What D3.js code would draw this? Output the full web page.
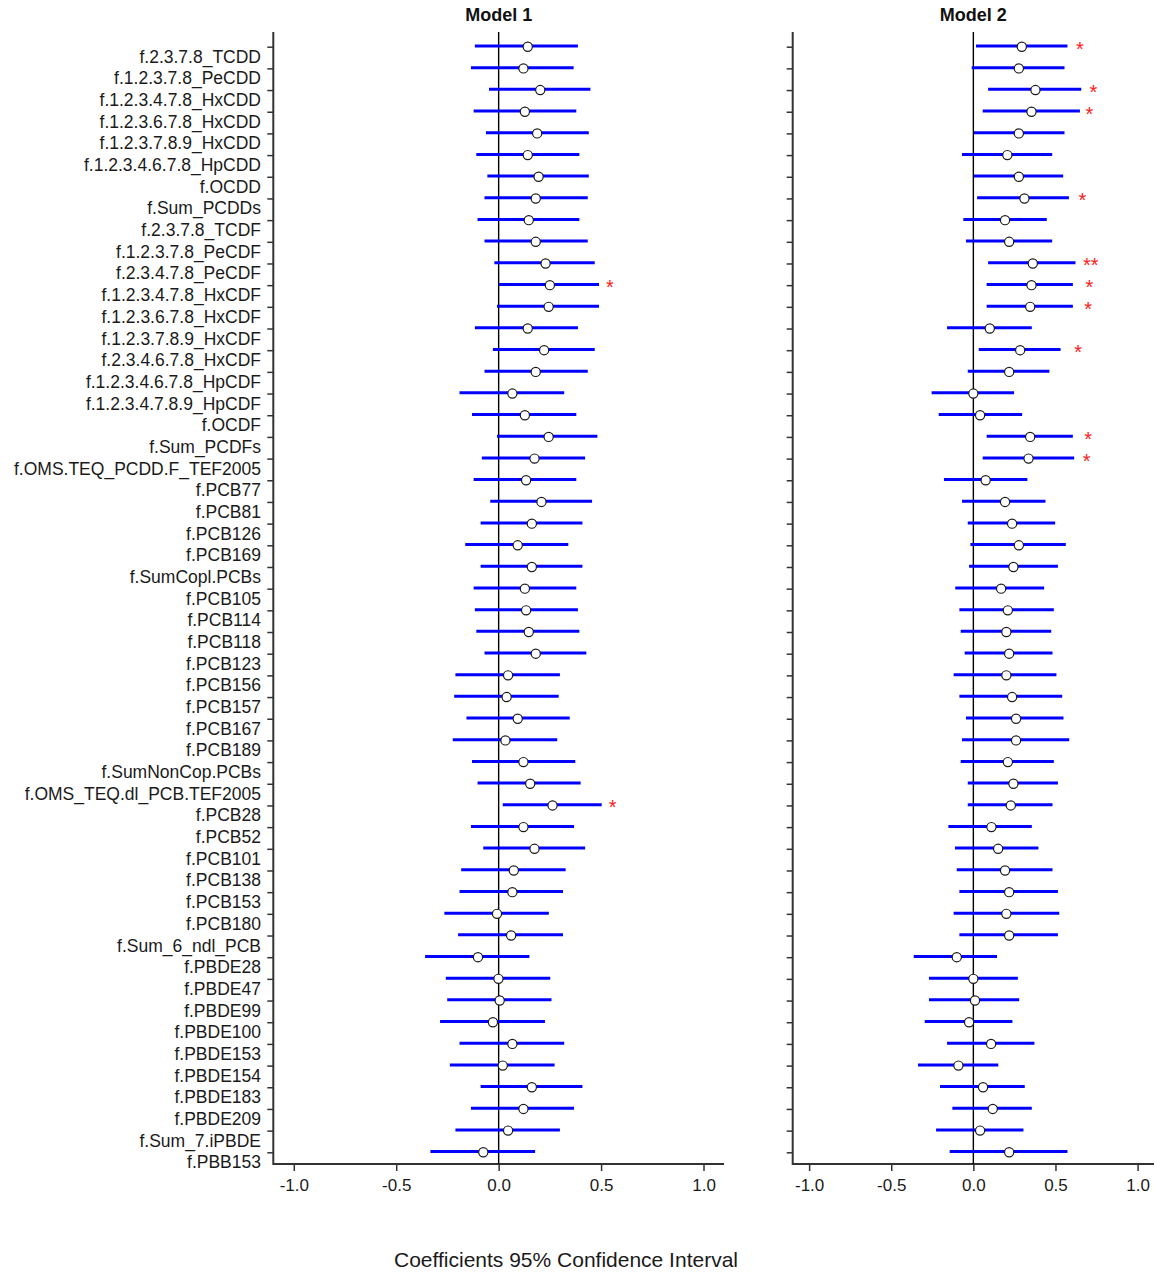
<!DOCTYPE html>
<html>
<head>
<meta charset="utf-8">
<script src="https://cdn.jsdelivr.net/npm/d3@7"></script>
<style>
  body { margin: 0; background: #fff; }
  svg text { font-family: "Liberation Sans", Arial, sans-serif; }
</style>
</head>
<body>
<div id="forest"></div>
<script>

// exposures, top to bottom
const labels = [
  "f.2.3.7.8_TCDD", "f.1.2.3.7.8_PeCDD", "f.1.2.3.4.7.8_HxCDD", "f.1.2.3.6.7.8_HxCDD",
  "f.1.2.3.7.8.9_HxCDD", "f.1.2.3.4.6.7.8_HpCDD", "f.OCDD", "f.Sum_PCDDs",
  "f.2.3.7.8_TCDF", "f.1.2.3.7.8_PeCDF", "f.2.3.4.7.8_PeCDF", "f.1.2.3.4.7.8_HxCDF",
  "f.1.2.3.6.7.8_HxCDF", "f.1.2.3.7.8.9_HxCDF", "f.2.3.4.6.7.8_HxCDF", "f.1.2.3.4.6.7.8_HpCDF",
  "f.1.2.3.4.7.8.9_HpCDF", "f.OCDF", "f.Sum_PCDFs", "f.OMS.TEQ_PCDD.F_TEF2005",
  "f.PCB77", "f.PCB81", "f.PCB126", "f.PCB169", "f.SumCopl.PCBs",
  "f.PCB105", "f.PCB114", "f.PCB118", "f.PCB123", "f.PCB156", "f.PCB157",
  "f.PCB167", "f.PCB189", "f.SumNonCop.PCBs", "f.OMS_TEQ.dl_PCB.TEF2005",
  "f.PCB28", "f.PCB52", "f.PCB101", "f.PCB138", "f.PCB153", "f.PCB180",
  "f.Sum_6_ndl_PCB", "f.PBDE28", "f.PBDE47", "f.PBDE99", "f.PBDE100",
  "f.PBDE153", "f.PBDE154", "f.PBDE183", "f.PBDE209", "f.Sum_7.iPBDE", "f.PBB153"
];

// Model 1
const m1Est = [0.142, 0.121, 0.203, 0.128, 0.188, 0.142, 0.195, 0.181, 0.147, 0.181,
  0.229, 0.250, 0.244, 0.142, 0.222, 0.181, 0.067, 0.128, 0.244, 0.175,
  0.134, 0.209, 0.162, 0.093, 0.162, 0.128, 0.134, 0.147, 0.181, 0.046,
  0.039, 0.093, 0.033, 0.121, 0.154, 0.263, 0.121, 0.175, 0.074, 0.067,
  -0.008, 0.061, -0.101, -0.001, 0.005, -0.028, 0.067, 0.020, 0.162, 0.121,
  0.046, -0.075];
const m1Lo = [-0.116, -0.135, -0.047, -0.122, -0.062, -0.109, -0.055, -0.069, -0.103, -0.069,
  -0.021, 0.002, -0.008, -0.116, -0.028, -0.069, -0.191, -0.130, -0.008, -0.082,
  -0.122, -0.041, -0.088, -0.163, -0.088, -0.122, -0.116, -0.109, -0.069, -0.211,
  -0.217, -0.157, -0.224, -0.130, -0.103, 0.020, -0.135, -0.075, -0.183, -0.191,
  -0.265, -0.198, -0.359, -0.258, -0.251, -0.286, -0.191, -0.238, -0.088, -0.135,
  -0.211, -0.333];
const m1Hi = [0.387, 0.366, 0.448, 0.379, 0.440, 0.394, 0.440, 0.435, 0.394, 0.435,
  0.469, 0.490, 0.490, 0.387, 0.469, 0.435, 0.320, 0.379, 0.482, 0.422,
  0.379, 0.456, 0.409, 0.340, 0.409, 0.379, 0.387, 0.394, 0.428, 0.299,
  0.293, 0.347, 0.286, 0.374, 0.400, 0.503, 0.368, 0.422, 0.327, 0.314,
  0.245, 0.314, 0.150, 0.252, 0.258, 0.226, 0.320, 0.273, 0.409, 0.368,
  0.299, 0.178];
const m1Sig = ["", "", "", "", "", "", "", "", "", "", "", "*", "", "", "", "", "", "",
  "", "", "", "", "", "", "", "", "", "", "", "", "", "", "", "", "", "*",
  "", "", "", "", "", "", "", "", "", "", "", "", "", "", "", ""];

// Model 2
const m2Est = [0.295, 0.277, 0.378, 0.354, 0.277, 0.207, 0.277, 0.311, 0.193, 0.218,
  0.362, 0.354, 0.346, 0.100, 0.285, 0.218, 0.000, 0.041, 0.346, 0.336,
  0.075, 0.193, 0.236, 0.277, 0.244, 0.169, 0.210, 0.201, 0.218, 0.201,
  0.236, 0.260, 0.260, 0.210, 0.244, 0.228, 0.110, 0.151, 0.193, 0.218,
  0.201, 0.218, -0.101, 0.000, 0.010, -0.026, 0.108, -0.091, 0.059, 0.118,
  0.041, 0.218];
const m2Lo = [0.016, -0.010, 0.090, 0.057, 0.004, -0.069, 0.004, 0.023, -0.061, -0.045,
  0.090, 0.081, 0.081, -0.160, 0.033, -0.034, -0.254, -0.211, 0.081, 0.057,
  -0.179, -0.069, -0.034, -0.018, -0.026, -0.110, -0.085, -0.077, -0.053, -0.120,
  -0.085, -0.045, -0.069, -0.077, -0.034, -0.034, -0.152, -0.112, -0.101, -0.085,
  -0.120, -0.085, -0.363, -0.270, -0.270, -0.296, -0.160, -0.337, -0.203, -0.128,
  -0.227, -0.144];
const m2Hi = [0.573, 0.555, 0.657, 0.649, 0.555, 0.480, 0.547, 0.582, 0.447, 0.480,
  0.622, 0.606, 0.606, 0.356, 0.531, 0.463, 0.248, 0.297, 0.606, 0.614,
  0.329, 0.439, 0.498, 0.563, 0.515, 0.431, 0.490, 0.474, 0.482, 0.506,
  0.541, 0.549, 0.584, 0.490, 0.515, 0.482, 0.356, 0.396, 0.482, 0.515,
  0.523, 0.515, 0.144, 0.271, 0.279, 0.238, 0.372, 0.152, 0.313, 0.356,
  0.305, 0.573];
const m2Sig = ["*", "", "*", "*", "", "", "", "*", "", "", "**", "*", "*", "", "*", "",
  "", "", "*", "*", "", "", "", "", "", "", "", "", "", "", "", "", "", "", "", "",
  "", "", "", "", "", "", "", "", "", "", "", "", "", "", "", ""];

const xTicks = [-1.0, -0.5, 0.0, 0.5, 1.0];

const width = 1160, height = 1274;
const plotTop = 32, plotBottom = 1164;

const svg = d3.select("#forest")
    .append("svg")
    .attr("width", width)
    .attr("height", height);

// one y scale shared by both panels
const yScale = d3.scalePoint()
    .domain(labels)
    .range([46.7, 1152.3]);

// row labels, only left of model 1 (they sit a little below their tick, like the original)
svg.append("g")
    .selectAll("text")
    .data(labels)
    .enter()
    .append("text")
    .attr("x", 261)
    .attr("y", d => yScale(d) + 16)
    .attr("text-anchor", "end")
    .attr("font-size", "17.5px")
    .attr("fill", "#1a1a1a")
    .text(d => d);

const panels = [
  { title: "Model 1", left: 273.3, right: 724, est: m1Est, lo: m1Lo, hi: m1Hi, sig: m1Sig, starOff: 60 },
  { title: "Model 2", left: 792.7, right: 1154, est: m2Est, lo: m2Lo, hi: m2Hi, sig: m2Sig, starOff: 58 }
];

// plain hyphen for negatives, as in the original
const tickFmt = d => d.toFixed(1);

panels.forEach(p => {
    const x = d3.scaleLinear()
        .domain([-1.1, 1.1])
        .range([p.left, p.right]);

    const g = svg.append("g");

    // left ticks (no labels)
    g.append("g")
        .attr("transform", `translate(${p.left},0)`)
        .call(d3.axisLeft(yScale).tickSize(6).tickFormat(""))
        .call(a => a.select(".domain").remove())
        .call(a => a.selectAll("line").attr("stroke", "#333").attr("stroke-width", 1.5));

    // bottom axis ticks + labels
    g.append("g")
        .attr("transform", `translate(0,${plotBottom})`)
        .call(d3.axisBottom(x).tickValues(xTicks).tickSize(7).tickPadding(8).tickFormat(tickFmt))
        .call(a => a.select(".domain").remove())
        .call(a => a.selectAll("line").attr("stroke", "#333").attr("stroke-width", 1.5))
        .call(a => a.selectAll("text")
            .attr("font-size", "17px")
            .attr("fill", "#1a1a1a")
            .style("font-family", "'Liberation Sans', Arial, sans-serif"));

    // L shaped frame
    g.append("path")
        .attr("d", `M${p.left},${plotTop}V${plotBottom}H${p.right}`)
        .attr("fill", "none")
        .attr("stroke", "#333")
        .attr("stroke-width", 2);

    // zero reference line
    g.append("line")
        .attr("x1", x(0)).attr("x2", x(0))
        .attr("y1", plotTop).attr("y2", plotBottom)
        .attr("stroke", "#000")
        .attr("stroke-width", 1.4);

    // confidence intervals
    g.selectAll(".ci")
        .data(labels)
        .enter()
        .append("line")
        .attr("class", "ci")
        .attr("x1", (d, i) => x(p.lo[i]))
        .attr("x2", (d, i) => x(p.hi[i]))
        .attr("y1", d => yScale(d) - 0.7)
        .attr("y2", d => yScale(d) - 0.7)
        .attr("stroke", "#0000ff")
        .attr("stroke-width", 3);

    // estimates
    g.selectAll(".est")
        .data(labels)
        .enter()
        .append("circle")
        .attr("class", "est")
        .attr("cx", (d, i) => x(p.est[i]))
        .attr("cy", d => yScale(d))
        .attr("r", 4.6)
        .attr("fill", "#fff")
        .attr("stroke", "#1a1a1a")
        .attr("stroke-width", 1.2);

    // significance stars
    g.selectAll(".sig")
        .data(labels)
        .enter()
        .append("text")
        .attr("class", "sig")
        .attr("x", (d, i) => x(p.est[i]) + p.starOff)
        .attr("y", d => yScale(d) + 9)
        .attr("text-anchor", "middle")
        .attr("font-size", "20px")
        .attr("fill", "#ff2020")
        .text((d, i) => p.sig[i]);

    // panel title
    svg.append("text")
        .attr("x", (p.left + p.right) / 2)
        .attr("y", 21)
        .attr("text-anchor", "middle")
        .attr("font-size", "18px")
        .attr("font-weight", "bold")
        .attr("fill", "#111")
        .text(p.title);
});

svg.append("text")
    .attr("x", 566)
    .attr("y", 1267)
    .attr("text-anchor", "middle")
    .attr("font-size", "21px")
    .attr("fill", "#1a1a1a")
    .text("Coefficients 95% Confidence Interval");

</script>
</body>
</html>
